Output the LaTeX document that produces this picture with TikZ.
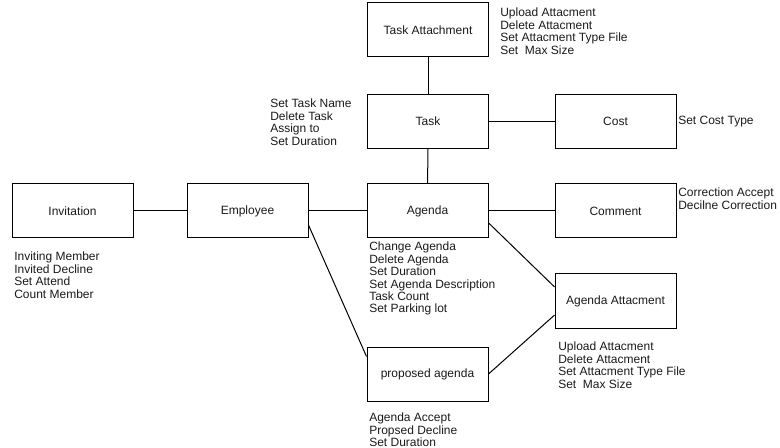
\documentclass[tikz,border=0pt]{standalone}
\usepackage{fontspec}
\setmainfont{Liberation Sans}
\usepackage{xcolor}
\usetikzlibrary{positioning}
\definecolor{LineDark}{HTML}{000000}
\definecolor{TextDark}{HTML}{1A1A1A}

\begin{document}
\begin{tikzpicture}[
      x=0.75pt, y=-0.75pt,
      every node/.style={font=\fontsize{9}{9.3}\selectfont, text=TextDark},
      ent/.style={draw=LineDark, line width=0.75pt, fill=white,
          minimum width=90.75pt, minimum height=40.5pt, inner sep=0pt},
      ops/.style={anchor=north west, inner sep=0pt, align=left},
      ln/.style={draw=LineDark, line width=0.75pt},
    ]
    \useasboundingbox (0,0) rectangle (780,448);

    % ENTITIES
    \node[ent] (tatt)     at (428.0, 30.0) {Task Attachment};
    \node[ent] (task)     at (428.0,121.5) {Task};
    \node[ent] (cost)     at (615.5,121.5) {Cost};
    \node[ent] (invit)    at ( 72.5,211.0) {Invitation};
    \node[ent] (employee) at (247.5,211.0) {Employee};
    \node[ent] (agenda)   at (427.5,211.0) {Agenda};
    \node[ent] (comment)  at (615.5,211.0) {Comment};
    \node[ent] (aatt)     at (615.5,301.0) {Agenda Attacment};
    \node[ent] (proposed) at (427.5,374.0) {proposed agenda};

    % Links
    \foreach \a/\b in {tatt/task,task/agenda,task/cost,invit/employee,employee/agenda,agenda/comment}
    \draw[ln](\a)--(\b);
    \draw[ln](agenda.-11)--(aatt.167);
    \draw[ln](employee.-13)--(proposed.164);
    \draw[ln](proposed.east)--(aatt.-167);

    % OPERATIONS
    \node[ops] (tatt-ops) at (500,8)
    {Upload Attacment\\Delete Attacment\\Set Attacment Type File\\Set\ \ Max Size};
    \node[ops] (task-ops) at (270,99)
    {Set Task Name\\Delete Task\\Assign to\\Set Duration};
    \node[ops] (cost-ops) at (678,116) {Set Cost Type};
    \node[ops] (comment-ops) at (678,188)
    {Correction Accept\\Decilne Correction};
    \node[ops] (invit-ops) at (14,252)
    {Inviting Member\\Invited Decline\\Set Attend\\Count Member};
    \node[ops] (agenda-ops) at (369,242)
    {Change Agenda\\Delete Agenda\\Set Duration\\Set Agenda Description\\Task Count\\Set Parking lot};
    \node[ops] (aatt-ops) at (558,342)
    {Upload Attacment\\Delete Attacment\\Set Attacment Type File\\Set\ \ Max Size};
    \node[ops] (proposed-ops) at (369,413)
    {Agenda Accept\\Propsed Decline\\Set Duration};
  \end{tikzpicture}
\end{document}
